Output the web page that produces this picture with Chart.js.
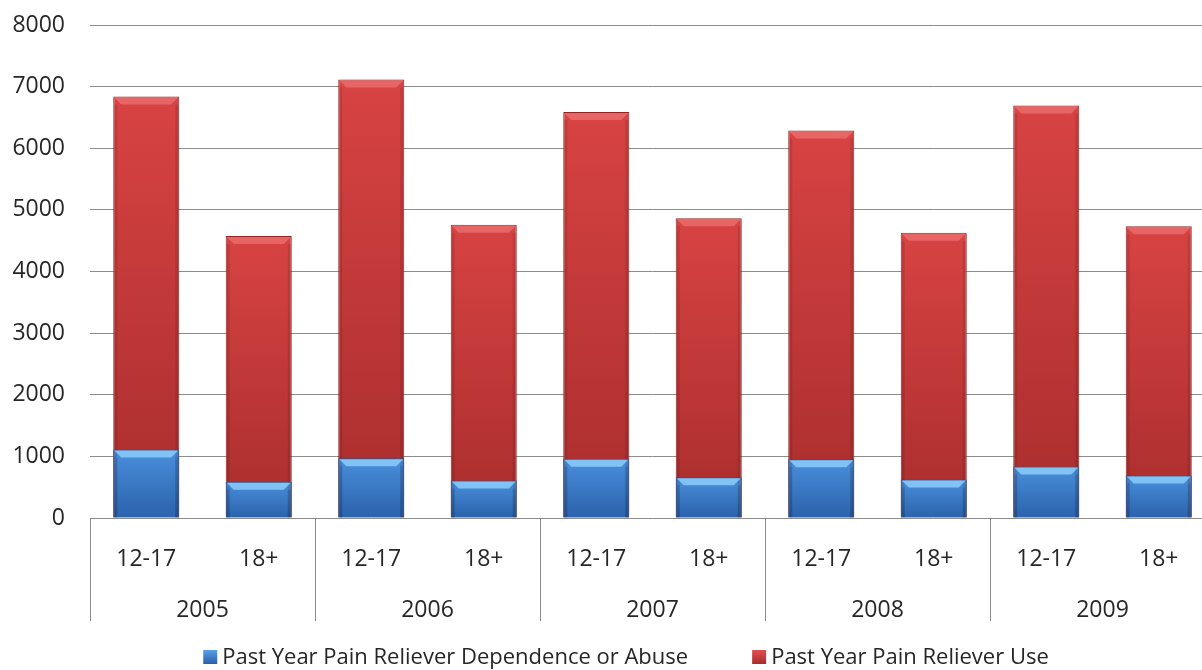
<!DOCTYPE html>
<html>
<head>
<meta charset="utf-8">
<script src="https://cdn.jsdelivr.net/npm/chart.js@4.4.1/dist/chart.umd.min.js"></script>
<style>
  html, body { margin: 0; padding: 0; background: #fff; overflow: hidden; }
  #wrap { position: relative; width: 1230px; height: 670px; }
</style>
</head>
<body>
<div id="wrap"><canvas id="painChart"></canvas></div>
<script>
// data
var ageGroups = ['12-17', '18+', '12-17', '18+', '12-17', '18+', '12-17', '18+', '12-17', '18+'];
var years = ['2005', '2006', '2007', '2008', '2009'];
var dependence = [1110, 590, 970, 610, 960, 660, 955, 625, 835, 690];
var use = [6840, 4575, 7115, 4760, 6590, 4865, 6290, 4630, 6695, 4735];
var seriesNames = ['Past Year Pain Reliever Dependence or Abuse', 'Past Year Pain Reliever Use'];
var yMin = 0, yMax = 8000, yStep = 1000;

var FONT = '"Open Sans", sans-serif';
var TEXT = '#262626';
var GRID = '#8c8c8c';

Chart.defaults.font.family = FONT;
Chart.defaults.color = TEXT;

function barFill(top, bottom) {
	return function (c) {
		var chart = c.chart;
		var y = chart.scales.y;
		if (!y || !chart.chartArea) return top;
		var y0 = y.getPixelForValue(c.raw);
		var y1 = y.getPixelForValue(0);
		var g = chart.ctx.createLinearGradient(0, y0, 0, y1);
		g.addColorStop(0, top);
		g.addColorStop(1, bottom);
		return g;
	};
}

var bevels = ['rgba(140, 205, 250, 0.85)', 'rgba(235, 110, 110, 0.8)'];

var decor = {
	id: 'decor',
	afterDatasetsDraw: function (chart) {
		var ctx = chart.ctx;
		// red bevels first, blue ones last (blue sits in front)
		[1, 0].forEach(function (di) {
			var meta = chart.getDatasetMeta(di);
			meta.data.forEach(function (el) {
				var p = el.getProps(['x', 'y', 'base', 'width'], true);
				var l = p.x - p.width / 2, r = p.x + p.width / 2, t = p.y;
				var b = 8;
				ctx.save();
				ctx.fillStyle = bevels[di];
				ctx.beginPath();
				ctx.moveTo(l + 1, t + 1);
				ctx.lineTo(r - 1, t + 1);
				ctx.lineTo(r - b, t + b);
				ctx.lineTo(l + b, t + b);
				ctx.closePath();
				ctx.fill();
				// darker side faces
				ctx.fillStyle = 'rgba(0,0,0,0.10)';
				ctx.fillRect(l + 1, t + b, 3, p.base - t - b);
				ctx.fillRect(r - 4, t + b, 3, p.base - t - b);
				ctx.restore();
			});
		});
	},
	afterDraw: function (chart) {
		var ctx = chart.ctx;
		var x = chart.scales.x, x2 = chart.scales.x2;
		var groupW = (x.right - x.left) / years.length;
		ctx.save();
		ctx.strokeStyle = GRID;
		ctx.lineWidth = 1;
		for (var k = 0; k <= years.length; k++) {
			var px = Math.round(x.left + k * groupW) + 0.5;
			ctx.beginPath();
			ctx.moveTo(px, chart.chartArea.bottom);
			ctx.lineTo(px, x2.bottom - 5);
			ctx.stroke();
		}

		// legend
		ctx.font = '22px ' + FONT;
		ctx.textBaseline = 'middle';
		var box = 14, gap = 5, spacing = 64;
		var colors = [['#5aa0e8', '#2a5fa8'], ['#e05050', '#a82c2c']];
		var w0 = ctx.measureText(seriesNames[0]).width;
		var w1 = ctx.measureText(seriesNames[1]).width;
		var total = box + gap + w0 + spacing + box + gap + w1;
		var cx = 626, cy = 657;
		var lx = cx - total / 2;
		[w0, w1].forEach(function (w, i) {
			var g = ctx.createLinearGradient(0, cy - box / 2, 0, cy + box / 2);
			g.addColorStop(0, colors[i][0]);
			g.addColorStop(1, colors[i][1]);
			ctx.fillStyle = g;
			ctx.fillRect(lx, cy - box / 2, box, box);
			ctx.fillStyle = TEXT;
			ctx.textAlign = 'left';
			ctx.fillText(seriesNames[i], lx + box + gap, cy + 1);
			lx += box + gap + w + spacing;
		});
		ctx.restore();
	}
};

var painChart = new Chart(document.getElementById('painChart'), {
	type: 'bar',
	data: {
		labels: ageGroups,
		datasets: [
			{
				label: seriesNames[0],
				data: dependence,
				backgroundColor: barFill('#4a8fdc', '#2b62ab'),
				borderColor: '#24548f',
				borderWidth: 1,
				categoryPercentage: 1,
				barPercentage: 0.587,
			},
			{
				label: seriesNames[1],
				data: use,
				backgroundColor: barFill('#d84343', '#a92d2d'),
				borderColor: '#8e2424',
				borderWidth: 1,
				categoryPercentage: 1,
				barPercentage: 0.587,
			},
		],
	},
	options: {
		responsive: true,
		maintainAspectRatio: false,
		animation: false,
		layout: { padding: { top: 25, right: 15, bottom: 44, left: 0 } },
		plugins: {
			legend: { display: false },
			tooltip: { enabled: false },
		},
		scales: {
			x: {
				stacked: true,
				grid: { display: false },
				border: { display: false },
				ticks: { font: { size: 23 }, color: TEXT, padding: 20, maxRotation: 0, autoSkip: false },
				afterFit: function (s) { s.height = 60; },
			},
			x2: {
				type: 'category',
				labels: years,
				position: 'bottom',
				weight: 1,
				offset: true,
				grid: { display: false },
				border: { display: false },
				ticks: { font: { size: 23 }, color: TEXT, padding: 11, maxRotation: 0 },
				afterFit: function (s) { s.height = 48; },
			},
			y: {
				stacked: false,
				min: yMin,
				max: yMax,
				ticks: {
					stepSize: yStep,
					font: { size: 23 },
					color: TEXT,
					padding: 25,
					callback: function (v) { return String(v); },
				},
				grid: { color: GRID, drawTicks: false },
				border: { display: false },
				afterFit: function (s) {
					s.width = 90;
					s.paddingTop = 0;
					s.paddingBottom = 0;
				},
			},
		},
	},
	plugins: [decor],
});
</script>
</body>
</html>
